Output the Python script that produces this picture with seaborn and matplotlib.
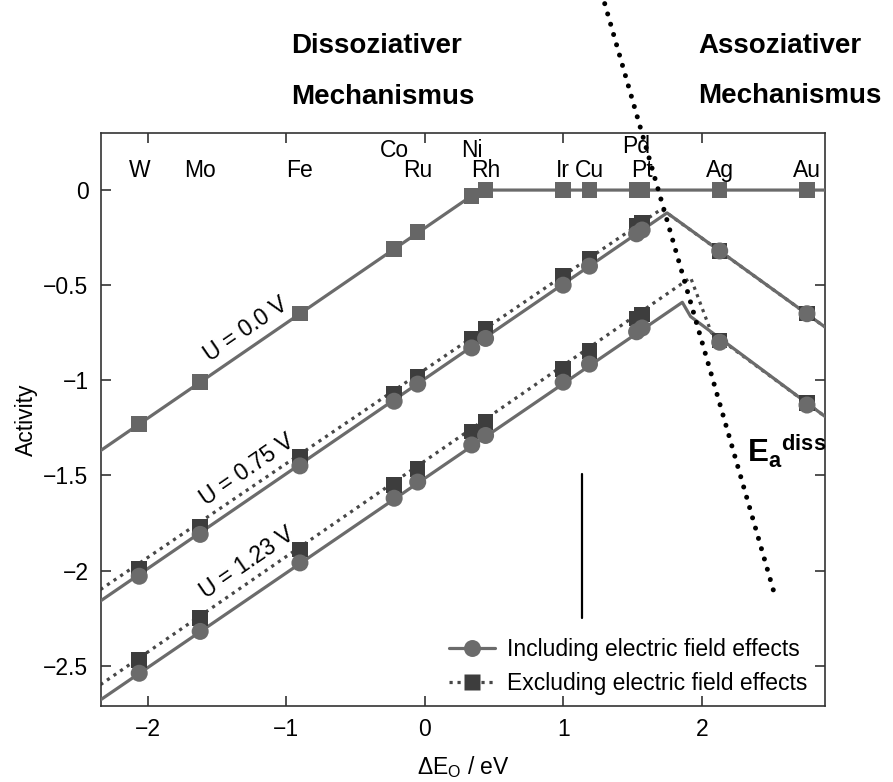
import matplotlib
matplotlib.use('Agg')
import matplotlib.pyplot as plt
from matplotlib.lines import Line2D
import seaborn as sns

# metals and their oxygen binding energy (eV)
ELEMENTS = ['W', 'Mo', 'Fe', 'Co', 'Ru', 'Ni', 'Rh', 'Ir', 'Cu', 'Pd', 'Pt', 'Ag', 'Au']
DE_O = [-2.06, -1.62, -0.90, -0.22, -0.05, 0.34, 0.44, 1.00, 1.19, 1.53, 1.57, 2.13, 2.76]
# label heights for the metal names (upper row for crowded pairs)
LABEL_Y = [0.104, 0.104, 0.104, 0.21, 0.104, 0.21, 0.104, 0.104, 0.104, 0.228, 0.104, 0.104, 0.104]

# activity per metal
ACT_U000 = [-1.23, -1.01, -0.65, -0.31, -0.22, -0.03, 0, 0, 0, 0, 0, 0, 0]
ACT_U075_INC = [-2.03, -1.81, -1.45, -1.11, -1.02, -0.83, -0.78, -0.50, -0.40, -0.23, -0.21, -0.32, -0.65]
ACT_U075_EXC = [-1.99, -1.77, -1.40, -1.07, -0.98, -0.78, -0.73, -0.45, -0.36, -0.19, -0.17, -0.32, -0.65]
ACT_U123_INC = [-2.54, -2.32, -1.96, -1.62, -1.535, -1.34, -1.29, -1.01, -0.915, -0.745, -0.725, -0.80, -1.13]
ACT_U123_EXC = [-2.47, -2.25, -1.89, -1.55, -1.465, -1.27, -1.22, -0.94, -0.845, -0.675, -0.655, -0.79, -1.12]

# volcano outlines (kink points)
LINE_U000_X = [-2.34, 0.40, 2.89]
LINE_U000_Y = [-1.37, 0.0, 0.0]
LINE_U075_INC_X = [-2.34, 1.75, 2.89]
LINE_U075_INC_Y = [-2.16, -0.12, -0.72]
LINE_U075_EXC_X = [-2.34, 1.71, 2.89]
LINE_U075_EXC_Y = [-2.10, -0.10, -0.72]
LINE_U123_INC_X = [-2.34, 1.86, 1.92, 2.89]
LINE_U123_INC_Y = [-2.68, -0.59, -0.665, -1.19]
LINE_U123_EXC_X = [-2.34, 1.92, 2.07, 2.89]
LINE_U123_EXC_Y = [-2.60, -0.46, -0.75, -1.19]

# E_a(diss) boundary and marker bar
EA_X = [1.30, 2.52]
EA_Y = [0.98, -2.11]
BAR_X = [1.135, 1.135]
BAR_Y = [-1.49, -2.25]

X_TICKS = [-2, -1, 0, 1, 2]
X_TICKLABELS = ['\u22122', '\u22121', '0', '1', '2']
Y_TICKS = [0, -0.5, -1, -1.5, -2, -2.5]
Y_TICKLABELS = ['0', '\u22120.5', '\u22121', '\u22121.5', '\u22122', '\u22122.5']

LINE_GRAY = '#6b6b6b'
DOT_GRAY = '#474747'
DARK_SQ = '#3d3d3d'

sns.set_theme(style='ticks')
plt.rcParams['font.family'] = ['Liberation Sans', 'DejaVu Sans']
plt.rcParams['mathtext.fontset'] = 'custom'
plt.rcParams['mathtext.rm'] = 'Liberation Sans'
plt.rcParams['mathtext.bf'] = 'Liberation Sans:bold'
plt.rcParams['mathtext.it'] = 'Liberation Sans:italic'
plt.rcParams['text.color'] = 'black'
plt.rcParams['axes.labelcolor'] = 'black'

fig = plt.figure(figsize=(8.93, 7.82), dpi=100)
ax = fig.add_axes([101 / 893, 1 - 706 / 782, 724 / 893, 573 / 782])

dotted = (0, (1, 1.5))

# excluding field effects (dotted, squares)
for lx, ly in [(LINE_U075_EXC_X, LINE_U075_EXC_Y), (LINE_U123_EXC_X, LINE_U123_EXC_Y)]:
    sns.lineplot(x=lx, y=ly, sort=False, estimator=None, color=DOT_GRAY,
                 lw=2.3, linestyle=dotted, ax=ax, zorder=2)

# including field effects (solid)
for lx, ly in [(LINE_U000_X, LINE_U000_Y), (LINE_U075_INC_X, LINE_U075_INC_Y),
               (LINE_U123_INC_X, LINE_U123_INC_Y)]:
    sns.lineplot(x=lx, y=ly, sort=False, estimator=None, color=LINE_GRAY,
                 lw=2.3, ax=ax, zorder=3)

for act in [ACT_U075_EXC, ACT_U123_EXC]:
    sns.scatterplot(x=DE_O, y=act, marker='s', s=125, color=DARK_SQ,
                    edgecolor='none', ax=ax, zorder=4)
for act in [ACT_U075_INC, ACT_U123_INC]:
    sns.scatterplot(x=DE_O, y=act, marker='o', s=150, color=LINE_GRAY,
                    edgecolor='none', ax=ax, zorder=5)
sns.scatterplot(x=DE_O, y=ACT_U000, marker='s', s=125, color='#666666',
                edgecolor='none', ax=ax, zorder=5)

# metal labels along the top
for name, xv, yv in zip(ELEMENTS, DE_O, LABEL_Y):
    ax.text(xv, yv, name, ha='center', va='center', fontsize=16.5, color='black')

# potential labels
for txt, xv, yv in [('U = 0.0 V', -1.29, -0.73), ('U = 0.75 V', -1.28, -1.47),
                    ('U = 1.23 V', -1.28, -1.96)]:
    ax.text(xv, yv, txt, rotation=34.5, rotation_mode='anchor', ha='center',
            va='center', fontsize=16.5, color='black')

# E_a(diss) line and annotation
sns.lineplot(x=EA_X, y=EA_Y, sort=False, estimator=None, color='black', lw=3.6,
             linestyle=(0, (0.01, 2.13)), dash_capstyle='round', clip_on=False,
             ax=ax, zorder=6)
ax.text(2.325, -1.433, r'$\mathbf{E_a}^{\mathbf{diss}}$', fontsize=22.5,
        ha='left', va='baseline', color='black')
sns.lineplot(x=BAR_X, y=BAR_Y, sort=False, estimator=None, color='black', lw=1.6,
             ax=ax, zorder=6)

ax.set_xlim(-2.336, 2.89)
ax.set_ylim(-2.712, 0.30)
ax.set_xticks(X_TICKS)
ax.set_xticklabels(X_TICKLABELS)
ax.set_yticks(Y_TICKS)
ax.set_yticklabels(Y_TICKLABELS)
ax.tick_params(direction='in', length=7, width=1.2, top=True, right=True,
               labelsize=16.5, pad=9, color='#333333', labelcolor='black')
for sp in ax.spines.values():
    sp.set_color('#333333')
    sp.set_linewidth(1.2)
ax.set_xlabel('\u0394E$_{\\mathrm{O}}$ / eV', fontsize=16.5, labelpad=9)
ax.set_ylabel('Activity', fontsize=16.5, labelpad=4)

handles = [
    Line2D([], [], color=LINE_GRAY, lw=2.3, marker='o', ms=12.2, mfc=LINE_GRAY, mec='none'),
    Line2D([], [], color=DOT_GRAY, lw=2.3, linestyle=dotted, marker='s', ms=11.2,
           mfc=DARK_SQ, mec='none'),
]
ax.legend(handles, ['Including electric field effects', 'Excluding electric field effects'],
          loc='lower right', bbox_to_anchor=(0.975, 0.02), frameon=False,
          fontsize=16.5, handlelength=2.0, handletextpad=0.5, borderaxespad=0,
          borderpad=0, labelspacing=0.45)

# mechanism headings
fig.text(291 / 893, 1 - 53 / 782, 'Dissoziativer', fontsize=20, fontweight='bold', va='baseline')
fig.text(291 / 893, 1 - 104 / 782, 'Mechanismus', fontsize=20, fontweight='bold', va='baseline')
fig.text(698 / 893, 1 - 53 / 782, 'Assoziativer', fontsize=20, fontweight='bold', va='baseline')
fig.text(698 / 893, 1 - 103 / 782, 'Mechanismus', fontsize=20, fontweight='bold', va='baseline')

fig.savefig('out.png', dpi=100)
